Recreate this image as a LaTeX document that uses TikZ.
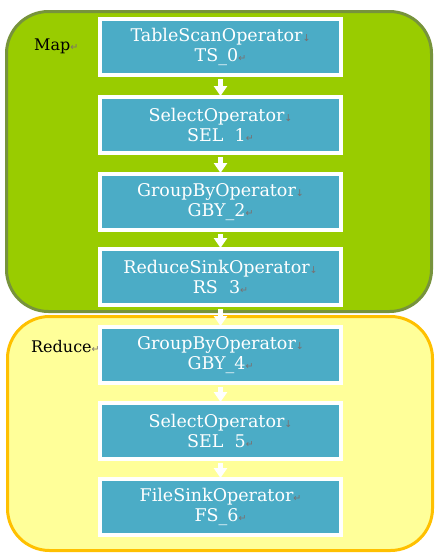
\documentclass[tikz,border=0pt]{standalone}
\usepackage{fontspec}
\setmainfont{DejaVu Serif}
\newfontfamily\marksfont{DejaVu Sans}
\usetikzlibrary{arrows.meta,shadows}
\definecolor{mapfill}{HTML}{99CC00}
\definecolor{mapline}{HTML}{77933C}
\definecolor{redfill}{HTML}{FFFF99}
\definecolor{redline}{HTML}{FFC000}
\definecolor{opfill}{HTML}{4BACC6}
\definecolor{markgray}{HTML}{7A6F6F}
\newcommand{\mkdown}{{\marksfont\fontsize{9.5}{9.5}\selectfont\color{markgray}↓}}
\newcommand{\mkret}{{\marksfont\fontsize{9.5}{9.5}\selectfont\color{markgray}↵}}
\begin{document}
\begin{tikzpicture}[x=1pt,y=-1pt,
  opbox/.style={draw=white, line width=4pt, fill=opfill, minimum width=241pt, minimum height=56pt,
    inner sep=0pt, align=center, text=white, font=\fontsize{17.5}{20}\selectfont,
    drop shadow={opacity=0.25, shadow xshift=1.5pt, shadow yshift=-1.5pt}},
  flow/.style={draw=white, line width=5.5pt, -{Triangle[width=13pt,length=10pt]}},
  region/.style={line width=3pt, rounded corners=42pt},
  lbl/.style={font=\fontsize{16}{16}\selectfont, text=black, inner sep=0pt}]
\useasboundingbox (0,0) rectangle (439,555);
\draw[region, draw=mapline, fill=mapfill] (6.5,11.5) rectangle (431.5,311.5);
\draw[region, draw=redline, fill=redfill] (7.5,316.5) rectangle (432.5,550.5);
\node[lbl, anchor=base west] (maplbl) at (34,50) {Map\mkret};
\node[lbl, anchor=base west] (redlbl) at (31,352) {Reduce\mkret};
\node[opbox] (ts0) at (220.5,47) {TableScanOperator\mkdown\\TS\_0\mkret};
\node[opbox] (sel1) at (220.5,125) {SelectOperator\mkdown\\SEL\ \ 1\mkret};
\node[opbox] (gby2) at (220.5,202) {GroupByOperator\mkdown\\GBY\_2\mkret};
\node[opbox] (rs3) at (220.5,277) {ReduceSinkOperator\mkdown\\RS\ \ 3\mkret};
\node[opbox] (gby4) at (220.5,355) {GroupByOperator\mkdown\\GBY\_4\mkret};
\node[opbox] (sel5) at (220.5,431) {SelectOperator\mkdown\\SEL\ \ 5\mkret};
\node[opbox] (fs6) at (220.5,507) {FileSinkOperator\mkret\\FS\_6\mkret};
\foreach \a/\b in {ts0/sel1, sel1/gby2, gby2/rs3, rs3/gby4, gby4/sel5, sel5/fs6}
  \draw[flow] ([yshift=-2pt]\a.south) -- ([yshift=-1pt]\b.north);
\end{tikzpicture}
\end{document}
